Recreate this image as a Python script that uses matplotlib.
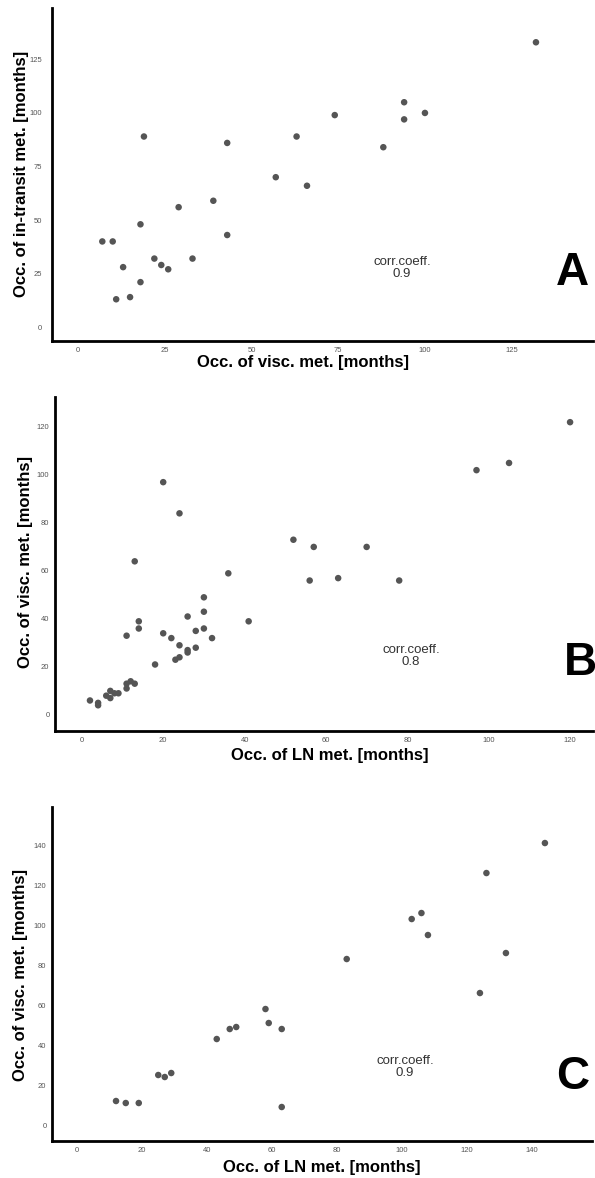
"""Drei Streudiagramme: Auftreten der Metastasen (A, B, C)."""

import matplotlib

matplotlib.use("Agg")
import matplotlib.pyplot as plt

plt.rcParams["font.family"] = ["Liberation Sans", "DejaVu Sans"]

# --- Daten ---
a_x = [7, 10, 11, 13, 15, 18, 18, 19, 22, 24, 26, 29, 33, 39, 43, 43,
       57, 63, 66, 74, 88, 94, 94, 100, 132]
a_y = [40, 40, 13, 28, 14, 21, 48, 89, 32, 29, 27, 56, 32, 59, 86, 43,
       70, 89, 66, 99, 84, 105, 97, 100, 133]

b_x = [2, 4, 4, 6, 7, 7, 8, 9, 11, 11, 12, 13, 11, 13, 14, 14, 18, 20, 20,
       22, 23, 24, 24, 24, 26, 26, 26, 28, 28, 30, 30, 30, 32, 36, 41, 52,
       57, 56, 63, 70, 78, 97, 105, 120]
b_y = [6, 5, 4, 8, 7, 10, 9, 9, 11, 13, 14, 13, 33, 64, 39, 36, 21, 97, 34,
       32, 23, 24, 29, 84, 41, 26, 27, 35, 28, 49, 43, 36, 32, 59, 39, 73,
       70, 56, 57, 70, 56, 102, 105, 122]

c_x = [12, 15, 19, 25, 27, 29, 43, 47, 49, 58, 59, 63, 63, 83, 103, 106,
       108, 124, 126, 132, 144]
c_y = [12, 11, 11, 25, 24, 26, 43, 48, 49, 58, 51, 48, 9, 83, 103, 106,
       95, 66, 126, 86, 141]

panels = [
    # daten, achsenposition, grenzen, ticks, beschriftungen, koeffizient, buchstabe
    dict(x=a_x, y=a_y, rect=[0.0874, 0.7105, 0.909, 0.2827],
         xlim=(-7.5, 148.4), ylim=(-6.5, 149), ticks=range(0, 126, 25),
         xlabel="Occ. of visc. met. [months]",
         ylabel="Occ. of in-transit met. [months]", coeff="0.9", letter="A",
         corr_pos=(0.647, 0.219), letter_pos=(0.963, 0.204), ypad=7,
         xlab_pos=(0.464, -0.063), ylab_pos=(-0.057, 0.503)),
    dict(x=b_x, y=b_y, rect=[0.0924, 0.3795, 0.904, 0.2835],
         xlim=(-6.6, 125.6), ylim=(-6.7, 132.5), ticks=range(0, 121, 20),
         xlabel="Occ. of LN met. [months]",
         ylabel="Occ. of visc. met. [months]", coeff="0.8", letter="B",
         corr_pos=(0.662, 0.225), letter_pos=(0.976, 0.204), ypad=4,
         xlab_pos=(0.511, -0.075), ylab_pos=(-0.055, 0.506)),
    dict(x=c_x, y=c_y, rect=[0.0874, 0.0314, 0.9076, 0.2835],
         xlim=(-7.7, 158.5), ylim=(-8, 159), ticks=range(0, 141, 20),
         xlabel="Occ. of LN met. [months]",
         ylabel="Occ. of visc. met. [months]", coeff="0.9", letter="C",
         corr_pos=(0.654, 0.222), letter_pos=(0.965, 0.192), ypad=4,
         xlab_pos=(0.5, -0.078), ylab_pos=(-0.058, 0.497)),
]

fig = plt.figure(figsize=(5.95, 11.78), dpi=100)

for p in panels:
    ax = fig.add_axes(p["rect"])
    ax.scatter(p["x"], p["y"], s=22, color="#555555", edgecolors="none",
               zorder=3)
    ax.set_xlim(*p["xlim"])
    ax.set_ylim(*p["ylim"])
    ax.set_xticks(list(p["ticks"]))
    ax.set_yticks(list(p["ticks"]))
    ax.tick_params(length=0, labelsize=5.5, labelcolor="#555555")
    ax.tick_params(axis="y", pad=p["ypad"])
    ax.tick_params(axis="x", pad=4)
    for s in ("top", "right"):
        ax.spines[s].set_visible(False)
    for s in ("left", "bottom"):
        ax.spines[s].set_linewidth(2)
        ax.spines[s].set_color("black")

    ax.set_xlabel(p["xlabel"], fontsize=12, fontweight="bold")
    ax.xaxis.set_label_coords(*p["xlab_pos"])
    ax.xaxis.label.set_va("center")
    ax.set_ylabel(p["ylabel"], fontsize=12, fontweight="bold")
    ax.yaxis.set_label_coords(*p["ylab_pos"])
    ax.yaxis.label.set_va("center")

    ax.text(*p["corr_pos"], f"corr.coeff.\n{p['coeff']}", transform=ax.transAxes,
            ha="center", va="center", fontsize=9.5, color="#333333",
            linespacing=1.0)
    ax.text(*p["letter_pos"], p["letter"], transform=ax.transAxes,
            ha="center", va="center", fontsize=33, fontweight="bold",
            clip_on=False)

fig.savefig("out.png", dpi=100)
plt.close(fig)
